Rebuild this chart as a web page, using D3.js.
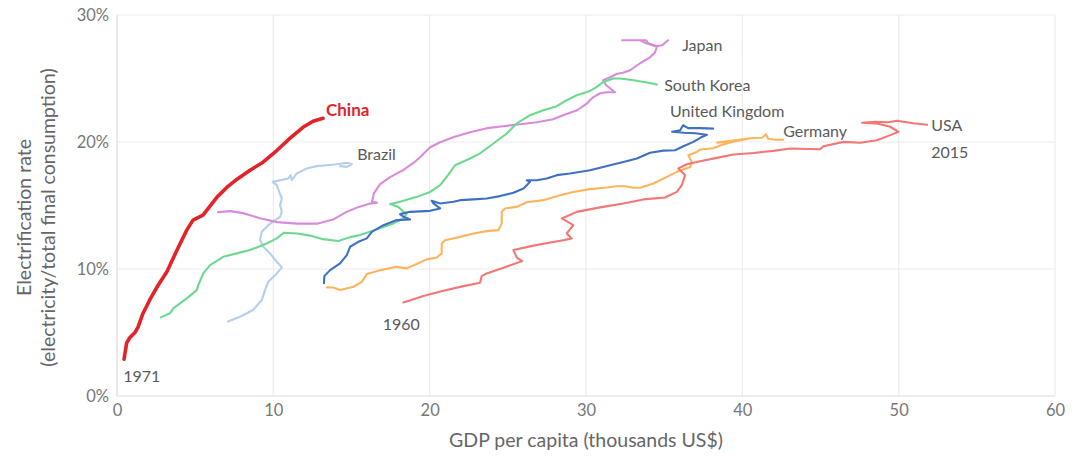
<!DOCTYPE html>
<html><head><meta charset="utf-8">
<script src="https://cdn.jsdelivr.net/npm/d3@7"></script>
<style>
html,body{margin:0;padding:0;background:#fff;}
text{font-family:"Lato","Liberation Sans",sans-serif;}
</style></head>
<body><svg id="c" width="1074" height="458"></svg>
<script>
// ---- data: [GDP per capita (thousand US$), electrification rate (%)] ----
const china = [[0.45,2.9],[0.62,4.2],[0.83,4.6],[1.15,5.0],[1.34,5.4],[1.66,6.5],[2.11,7.6],[2.62,8.7],[3.2,9.8],[3.84,11.5],[4.48,13.1],[4.86,13.85],[5.5,14.24],[6.4,15.66],[7.04,16.44],[7.68,17.07],[8.51,17.78],[9.34,18.41],[10.24,19.35],[11.07,20.3],[11.9,21.16],[12.54,21.64],[13.18,21.87]];
const brazil = [[7.1,5.86],[7.87,6.24],[8.7,6.77],[9.26,7.55],[9.47,8.34],[9.68,8.99],[10.22,9.65],[10.54,10.13],[10.22,10.57],[9.79,11.23],[9.36,11.75],[9.15,12.27],[9.26,12.93],[9.68,13.45],[9.96,13.71],[10.43,14.11],[10.54,14.5],[10.43,15.03],[10.54,15.56],[10.38,16.07],[10.22,16.6],[9.96,16.86],[10.43,16.99],[10.96,17.13],[11.11,17.39],[11.18,16.99],[11.5,17.52],[12.14,17.92],[12.78,18.1],[13.42,18.17],[14.06,18.25],[14.7,18.36],[15.02,18.25],[14.7,18.04],[14.27,18.1]];
const japan = [[6.46,14.48],[7.23,14.56],[8.06,14.4],[9.15,14.0],[10.24,13.69],[11.52,13.57],[12.8,13.57],[13.82,13.89],[14.65,14.48],[15.42,14.87],[16.19,15.15],[16.63,15.22],[16.31,15.3],[16.44,15.97],[16.83,16.68],[17.47,17.23],[18.3,17.78],[18.94,18.33],[19.39,18.8],[20.03,19.59],[20.67,19.98],[21.5,20.38],[22.58,20.77],[23.67,21.09],[24.7,21.24],[25.78,21.4],[26.87,21.56],[27.9,21.79],[28.53,22.11],[29.43,22.5],[30.07,23.05],[30.45,23.52],[30.9,23.84],[31.35,23.92],[31.86,23.92],[31.54,24.23],[31.29,24.47],[31.09,24.86],[31.54,25.1],[31.99,25.37],[32.37,25.45],[32.82,25.65],[33.46,26.2],[34.1,26.67],[34.42,27.07],[34.55,27.54],[33.97,27.77],[33.85,28.01],[32.31,28.01],[33.46,28.01],[33.85,27.77],[34.42,27.54],[34.87,27.62],[35.25,28.01]];
const korea = [[2.8,6.19],[3.39,6.51],[3.6,6.9],[4.03,7.29],[4.46,7.69],[5.1,8.34],[5.2,8.73],[5.52,9.65],[5.95,10.31],[6.8,10.96],[7.66,11.23],[8.51,11.49],[9.58,12.01],[10.22,12.41],[10.68,12.86],[11.52,12.79],[12.35,12.63],[13.18,12.35],[14.16,12.2],[14.91,12.51],[15.55,12.67],[16.62,13.12],[17.68,13.59],[18.32,13.98],[18.53,14.37],[18.32,14.5],[18.0,14.89],[17.47,15.11],[18.11,15.29],[19.17,15.68],[20.03,16.07],[20.67,16.6],[21.09,17.25],[21.63,18.17],[22.58,18.7],[23.22,19.1],[24.08,19.88],[24.93,20.67],[25.57,21.46],[26.42,22.11],[27.27,22.5],[28.13,22.82],[28.77,23.29],[29.41,23.68],[30.26,24.02],[30.69,24.34],[31.11,24.73],[31.75,25.0],[32.18,25.0],[33.03,24.86],[33.89,24.68],[34.53,24.52]];
const uk = [[13.24,8.89],[13.26,9.44],[13.63,9.91],[14.27,10.44],[14.7,11.09],[14.91,11.75],[15.44,12.14],[15.98,12.41],[16.3,12.93],[17.04,13.45],[17.9,13.85],[18.75,13.9],[18.32,14.11],[18.11,14.32],[18.75,14.5],[20.03,14.58],[20.67,14.77],[20.24,15.16],[20.13,15.37],[20.67,15.16],[21.52,15.29],[21.95,15.42],[22.8,15.48],[23.65,15.55],[24.5,15.74],[25.36,16.0],[26.0,16.34],[26.21,16.6],[26.42,16.86],[26.21,16.99],[26.85,16.99],[27.49,17.13],[28.13,17.39],[28.98,17.52],[30.26,17.78],[31.54,18.17],[32.39,18.43],[33.25,18.7],[34.1,19.16],[34.95,19.32],[35.7,19.35],[36.23,19.67],[36.87,20.01],[37.41,20.4],[37.73,20.57],[36.98,20.69],[36.28,20.73],[35.51,20.81],[36.02,20.93],[36.21,21.32],[36.53,21.09],[37.3,21.09],[38.13,21.05]];
const germany = [[13.42,8.55],[13.84,8.54],[14.27,8.34],[15.12,8.6],[15.66,8.99],[15.87,9.39],[15.98,9.6],[16.83,9.91],[17.9,10.17],[18.53,10.05],[19.17,10.39],[19.81,10.76],[20.45,10.91],[20.77,11.23],[20.77,12.01],[20.99,12.27],[21.94,12.53],[22.8,12.8],[23.65,12.98],[24.4,13.06],[24.61,13.59],[24.61,14.5],[24.82,14.77],[25.57,14.89],[26.21,15.26],[27.27,15.42],[28.34,15.81],[29.19,16.07],[30.26,16.29],[31.33,16.42],[31.97,16.52],[32.5,16.52],[33.03,16.4],[33.46,16.4],[34.31,16.73],[35.17,17.25],[35.81,17.65],[36.66,18.04],[36.77,18.43],[36.55,18.96],[37.09,19.22],[37.3,19.41],[38.13,19.51],[38.71,19.79],[39.54,20.06],[40.37,20.26],[39.22,20.06],[38.39,19.95],[39.54,20.14],[40.5,20.3],[41.27,20.34],[41.52,20.61],[41.65,20.26],[42.1,20.18],[42.61,20.18]];
const usa = [[18.32,7.36],[19.6,7.87],[20.88,8.28],[22.16,8.65],[23.22,8.91],[23.33,9.44],[23.65,9.65],[24.72,10.09],[25.91,10.62],[25.57,10.91],[25.36,11.49],[26.63,11.84],[27.91,12.12],[28.55,12.27],[29.09,12.41],[28.77,12.8],[29.19,13.45],[28.45,13.98],[29.41,14.5],[30.9,14.85],[32.39,15.16],[33.67,15.48],[35.06,15.63],[35.81,16.07],[36.13,16.6],[36.34,17.39],[35.91,17.92],[36.45,18.25],[37.3,18.49],[38.37,18.75],[39.43,19.02],[40.71,19.14],[41.99,19.3],[43.06,19.49],[44.98,19.43],[45.19,19.67],[46.47,20.01],[47.54,19.94],[48.61,20.14],[49.46,20.54],[49.99,20.8],[49.46,21.2],[48.69,21.44],[47.66,21.52],[48.5,21.6],[49.33,21.56],[49.9,21.68],[50.93,21.48],[51.82,21.36]];

const countries = ["Brazil","Japan","South Korea","United Kingdom","Germany","USA","China"];
const seriesData = [brazil, japan, korea, uk, germany, usa, china];
const colors = ["#b5cfee","#d98bdb","#6cd98f","#3f70c4","#fcb45d","#f47676","#e3232a"];
const xTicks = [0,10,20,30,40,50,60];
const yTicks = [0,10,20,30];
// label anchors [gdp, rate]
const labelText = ["China","Brazil","Japan","South Korea","United Kingdom","Germany","USA","2015","1960","1971"];
const labelPos  = [[13.37,22.05],[15.36,18.6],[36.15,27.15],[35.0,24.0],[35.38,22.0],[42.61,20.4],[52.08,20.9],[52.08,18.75],[17.0,5.2],[0.4,1.1]];

const svg = d3.select("#c");
const W = 1074, H = 458;
const m = {l:117, r:19, t:15, b:62};
const x = d3.scaleLinear().domain([0,60]).range([m.l, W-m.r]);
const y = d3.scaleLinear().domain([0,30]).range([H-m.b, m.t]);

// grid
svg.append("g").selectAll("line").data(xTicks).join("line")
  .attr("x1",d=>x(d)).attr("x2",d=>x(d)).attr("y1",y(0)).attr("y2",y(30))
  .attr("stroke",d=>d===0?"#dcdcdc":"#ececec").attr("stroke-width",1.2);
svg.append("g").selectAll("line").data(yTicks).join("line")
  .attr("x1",x(0)).attr("x2",x(60)).attr("y1",d=>y(d)).attr("y2",d=>y(d))
  .attr("stroke",d=>d===0?"#dcdcdc":"#ececec").attr("stroke-width",1.2);

// axes (text only; lines drawn as grid)
const xa = svg.append("g").attr("transform",`translate(0,${y(0)})`)
  .call(d3.axisBottom(x).tickValues(xTicks).tickSize(0).tickPadding(8));
const ya = svg.append("g").attr("transform",`translate(${x(0)},0)`)
  .call(d3.axisLeft(y).tickValues(yTicks).tickSize(0).tickPadding(8).tickFormat(d=>d+"%"));
[xa,ya].forEach(a=>{
  a.select(".domain").remove();
  a.selectAll("text").attr("fill","#777").style("font-size","16.5px").style("font-family",'"Lato","Liberation Sans",sans-serif');
});

// lines
const line = d3.line().x(d=>x(d[0])).y(d=>y(d[1]));
svg.append("g").selectAll("path").data(seriesData).join("path")
  .attr("d",line).attr("fill","none")
  .attr("stroke",(d,i)=>colors[i])
  .attr("stroke-width",(d,i)=>countries[i]==="China"?3.6:2.1)
  .attr("stroke-linejoin","round").attr("stroke-linecap","round");

// labels
svg.append("g").selectAll("text").data(labelText).join("text")
  .attr("x",(d,i)=>x(labelPos[i][0])).attr("y",(d,i)=>y(labelPos[i][1]))
  .text(d=>d)
  .attr("fill",d=>d==="China"?"#e3232a":"#5a5a5a")
  .style("font-weight",d=>d==="China"?"700":"400")
  .style("font-size",d=>d==="China"?"17px":"16px");

// axis titles
svg.append("text").attr("x",(x(0)+x(60))/2).attr("y",447).attr("text-anchor","middle")
  .attr("fill","#666").style("font-size","19.5px").text("GDP per capita (thousands US$)");
const yt = svg.append("text").attr("transform",`translate(0,${(y(0)+y(30))/2+12}) rotate(-90)`)
  .attr("text-anchor","middle").attr("fill","#666").style("font-size","19.5px");
yt.append("tspan").attr("x",0).attr("y",31).text("Electrification rate");
yt.append("tspan").attr("x",0).attr("y",55).text("(electricity/total final consumption)");
</script></body></html>
